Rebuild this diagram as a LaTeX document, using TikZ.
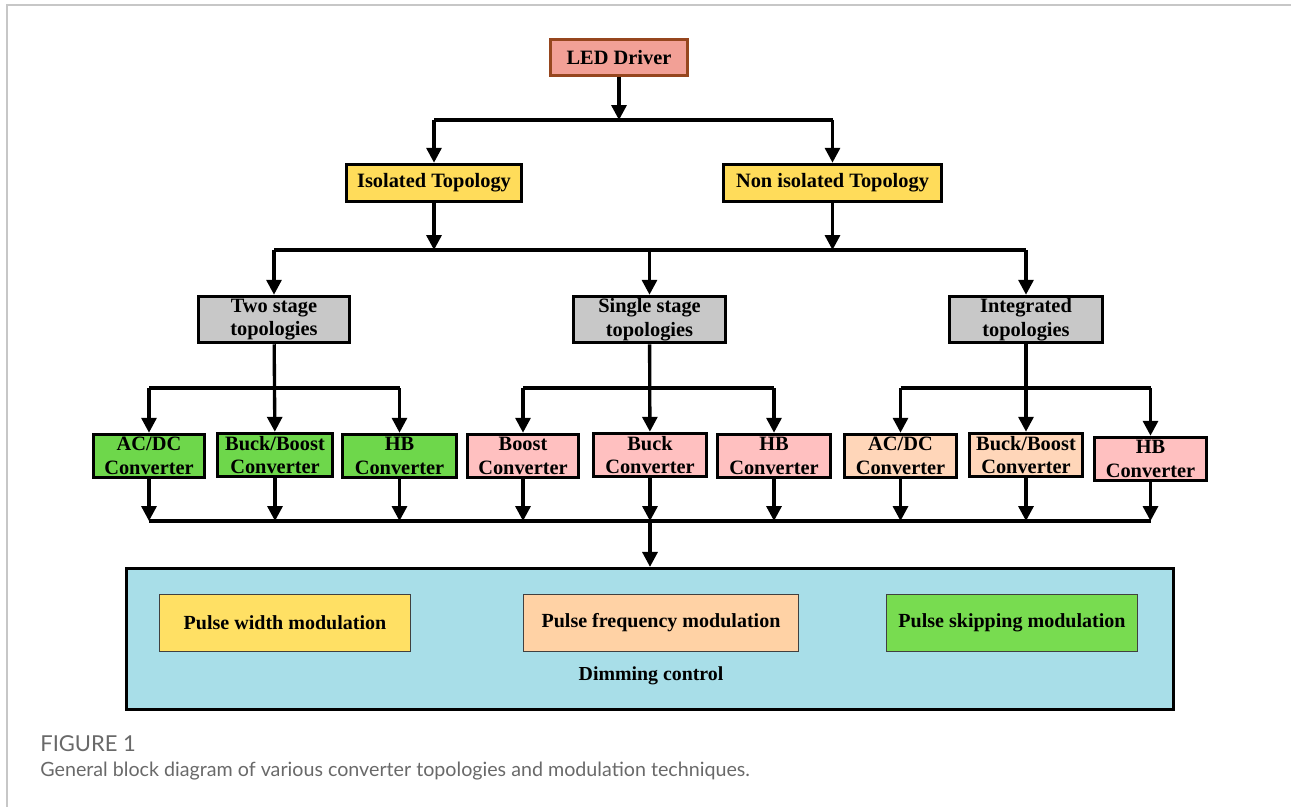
\documentclass[tikz,border=0pt]{standalone}
\usepackage{fontspec}
\setmainfont{Liberation Serif}
\newfontfamily\captionfont{Lato}
\usetikzlibrary{arrows.meta}
\definecolor{ledfill}{RGB}{242,160,150}
\definecolor{ledline}{RGB}{150,70,30}
\definecolor{topyellow}{RGB}{255,220,90}
\definecolor{stagegray}{RGB}{200,200,200}
\definecolor{convgreen}{RGB}{110,215,75}
\definecolor{convpink}{RGB}{255,192,192}
\definecolor{convpeach}{RGB}{255,214,185}
\definecolor{dimcyan}{RGB}{168,222,232}
\definecolor{pwmyellow}{RGB}{255,224,100}
\definecolor{pfmpeach}{RGB}{255,210,165}
\definecolor{psmgreen}{RGB}{120,220,80}
\definecolor{captiongray}{RGB}{105,105,105}
\newcommand{\drawblock}[7]{%   -- name, x1, y1, x2, y2, style, text
	\node[#6, minimum width={(#4-#2-3)*0.02cm}, minimum height={(#5-#3-3)*0.02cm}] (#1) at ({(#2+#4)/2}, {(#3+#5)/2}) {#7};
}

\begin{document}
\begin{tikzpicture}[x=0.02cm, y=-0.02cm,
	block/.style={draw=black, line width=2pt, font=\bfseries\fontsize{11.6}{13.4}\selectfont, align=center, inner sep=0pt},
	modblock/.style={draw=black!75, line width=0.6pt, font=\bfseries\fontsize{11.4}{13}\selectfont, inner sep=0pt},
	arr/.style={line width=1.9pt, -{Triangle[length=8.5pt, width=8.5pt]}},
	bus/.style={line width=1.9pt}]
\useasboundingbox (0,0) rectangle (1291,807);
\draw[black!22, line width=1.2pt] (7,807) -- (7,5) -- (1291,5);

\drawblock{led}{549}{38}{689}{77}{block, fill=ledfill, draw=ledline}{LED Driver}
\drawblock{iso}{345}{163}{523}{203}{block, fill=topyellow}{Isolated Topology}
\drawblock{non}{722}{163}{943}{203}{block, fill=topyellow}{Non isolated Topology}

\drawblock{two}{197}{295}{351}{344}{block, fill=stagegray}{Two stage\\topologies}
\drawblock{single}{572}{295}{727}{344}{block, fill=stagegray}{Single stage\\topologies}
\drawblock{intg}{948}{295}{1104}{344}{block, fill=stagegray}{Integrated\\topologies}

\drawblock{ac1}{92}{433}{206}{479}{block, fill=convgreen}{AC/DC\\Converter}
\drawblock{bb1}{216}{432}{334}{478}{block, fill=convgreen}{Buck/Boost\\Converter}
\drawblock{hb1}{341}{433}{458}{479}{block, fill=convgreen}{HB\\Converter}
\drawblock{bo2}{466}{433}{580}{479}{block, fill=convpink}{Boost\\Converter}
\drawblock{bu2}{592}{432}{708}{478}{block, fill=convpink}{Buck\\Converter}
\drawblock{hb2}{716}{433}{832}{479}{block, fill=convpink}{HB\\Converter}
\drawblock{ac3}{843}{433}{958}{479}{block, fill=convpeach}{AC/DC\\Converter}
\drawblock{bb3}{968}{432}{1084}{478}{block, fill=convpeach}{Buck/Boost\\Converter}
\drawblock{hb3}{1093}{436}{1208}{482}{block, fill=convpink}{HB\\Converter}

\drawblock{dim}{125}{567}{1175}{711}{draw=black, line width=1.8pt, fill=dimcyan}{}
\drawblock{pwm}{158}{593}{412}{653}{modblock, fill=pwmyellow}{Pulse width modulation}
\drawblock{pfm}{522}{593}{800}{653}{modblock, fill=pfmpeach}{Pulse frequency modulation}
\drawblock{psm}{885}{593}{1139}{653}{modblock, fill=psmgreen}{Pulse skipping modulation}
\node[font=\bfseries\fontsize{11.3}{13}\selectfont] (dimtext) at (651,676) {Dimming control};

% first level
\coordinate (b1) at (619,120);
\draw[arr] (led) -- (b1);
\draw[bus] (iso |- b1) -- (non |- b1);
\draw[arr] (iso |- b1) -- (iso);
\draw[arr] (non |- b1) -- (non);

% second level
\coordinate (b2) at (650,250);
\draw[arr] (iso) -- (iso |- b2);
\draw[arr] (non) -- (non |- b2);
\draw[bus] (two |- b2) -- (intg |- b2);
\foreach \n in {two, single, intg}
	\draw[arr] (\n |- b2) -- (\n);

% third level
\coordinate (b3) at (650,388);
\draw[arr] (two) -- (bb1);
\draw[arr] (single) -- (bu2);
\draw[arr] (intg) -- (bb3);
\draw[bus] (ac1 |- b3) -- (hb1 |- b3);
\draw[bus] (bo2 |- b3) -- (hb2 |- b3);
\draw[bus] (ac3 |- b3) -- (hb3 |- b3);
\foreach \n in {ac1, hb1, bo2, hb2, ac3, hb3}
	\draw[arr] (\n |- b3) -- (\n);

% converters to dimming control
\coordinate (b4) at (650,521);
\draw[bus] (ac1 |- b4) -- (hb3 |- b4);
\foreach \n in {ac1, bb1, hb1, bo2, bu2, hb2, ac3, bb3, hb3}
	\draw[arr] (\n) -- (\n |- b4);
\draw[arr] (b4) -- (b4 |- dim.north);

\node[anchor=base west, inner sep=0pt, font=\captionfont\fontsize{12.5}{14}\selectfont, text=captiongray] (fig) at (40,751) {FIGURE 1};
\node[anchor=base west, inner sep=0pt, font=\captionfont\fontsize{11.2}{13}\selectfont, text=captiongray] (caption) at (40,776) {General block diagram of various converter topologies and modulation techniques.};
\end{tikzpicture}
\end{document}
